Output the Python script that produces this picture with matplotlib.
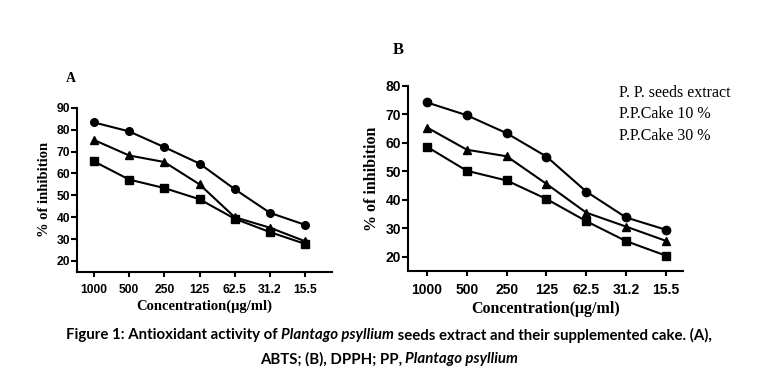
import matplotlib
matplotlib.use("Agg")
import matplotlib.pyplot as plt

concentrations = ["1000", "500", "250", "125", "62.5", "31.2", "15.5"]
series_names = ["P. P. seeds extract", "P.P.Cake 10 %", "P.P.Cake 30 %"]
markers = ["o", "^", "s"]

# (A) ABTS
abts_extract = [83.3, 79.2, 72.0, 64.5, 52.8, 42.0, 36.5]
abts_cake10 = [75.3, 68.2, 65.2, 55.0, 40.0, 35.2, 29.0]
abts_cake30 = [65.5, 57.2, 53.3, 48.2, 39.3, 33.2, 27.8]

# (B) DPPH
dpph_extract = [74.2, 69.7, 63.4, 55.2, 42.9, 33.8, 29.5]
dpph_cake10 = [65.4, 57.6, 55.3, 45.6, 35.5, 30.6, 25.6]
dpph_cake30 = [58.6, 50.2, 46.8, 40.3, 32.5, 25.5, 20.4]

SERIF = "Liberation Serif"
SANS = "Liberation Sans"

fig = plt.figure(figsize=(7.78, 3.89), dpi=100)


def panel(rect, data, ylim, yticks, xlim, tick_fs, label_fs, ms, xpad):
    ax = fig.add_axes(rect)
    x = list(range(len(concentrations)))
    for vals, m in zip(data, markers):
        ax.plot(x, vals, color="black", lw=1.5, marker=m, ms=ms,
                markerfacecolor="black", markeredgecolor="black")
    ax.set_xlim(*xlim)
    ax.set_ylim(*ylim)
    ax.set_yticks(yticks)
    ax.set_xticks(x)
    ax.set_xticklabels(concentrations, fontfamily=SANS, fontweight="bold", fontsize=tick_fs)
    ax.set_yticklabels([str(t) for t in yticks], fontfamily=SANS, fontweight="bold", fontsize=tick_fs)
    ax.spines["top"].set_visible(False)
    ax.spines["right"].set_visible(False)
    ax.spines["left"].set_bounds(ylim[0], yticks[-1])
    for s in ("left", "bottom"):
        ax.spines[s].set_linewidth(1.5)
    ax.tick_params(axis="y", direction="out", length=4, width=1.5, pad=1)
    ax.tick_params(axis="x", direction="out", length=3.5, width=1.5, pad=xpad)
    ax.set_xlabel("Concentration(μg/ml)", fontfamily=SERIF, fontweight="bold",
                  fontsize=label_fs, labelpad=3)
    ax.set_ylabel("% of inhibition", fontfamily=SERIF, fontweight="bold", fontsize=label_fs)
    return ax


axA = panel([0.099, 0.301, 0.328, 0.422], [abts_extract, abts_cake10, abts_cake30],
            (15, 90), list(range(20, 91, 10)), (-0.48, 6.77), 8.7, 10.5, 5.5, 5)
axB = panel([0.5244, 0.3033, 0.3535, 0.4757], [dpph_extract, dpph_cake10, dpph_cake30],
            (15, 80), list(range(20, 81, 10)), (-0.48, 6.43), 10, 11.5, 6, 5)

fig.text(71 / 778, 1 - 79 / 389, "A", fontfamily=SERIF, fontweight="bold", fontsize=10,
         ha="center", va="center")
fig.text(398 / 778, 1 - 50 / 389, "B", fontfamily=SERIF, fontweight="bold", fontsize=12,
         ha="center", va="center")

for i, name in enumerate(series_names):
    fig.text(619 / 778, 1 - (93 + i * 21.5) / 389, name, fontfamily=SERIF, fontsize=11.5,
             ha="left", va="center")

# caption with italic parts, centered line by line
caption_lines = [
    [("Figure 1: Antioxidant activity of ", "normal"), ("Plantago psyllium", "italic"),
     (" seeds extract and their supplemented cake. (A),", "normal")],
    [("ABTS; (B), DPPH; PP, ", "normal"), ("Plantago psyllium", "italic")],
]
caption_y = [335, 359]
renderer = fig.canvas.get_renderer()
for parts, ypix in zip(caption_lines, caption_y):
    texts = []
    for s, style in parts:
        t = fig.text(0, 1 - ypix / 389, s, fontfamily="Lato", fontweight="bold",
                     fontstyle=style, fontsize=10.8, ha="left", va="center")
        texts.append(t)
    widths = [t.get_window_extent(renderer).width for t in texts]
    total = sum(widths)
    x0 = (fig.bbox.width - total) / 2
    for t, w in zip(texts, widths):
        t.set_x(x0 / fig.bbox.width)
        x0 += w

fig.savefig("out.png", dpi=100)
